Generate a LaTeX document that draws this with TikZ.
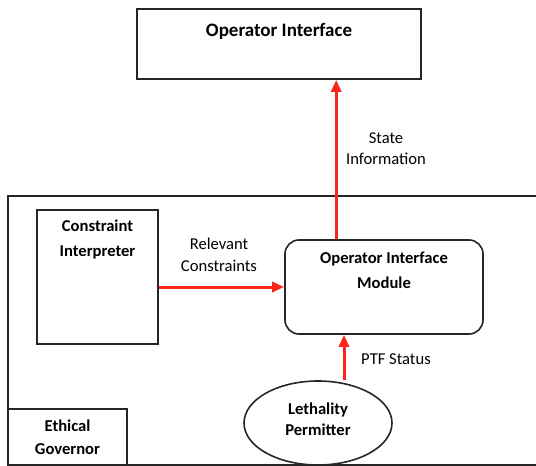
\documentclass[tikz,border=0pt]{standalone}
\usepackage{fontspec}
\setmainfont{Carlito}
\usetikzlibrary{shapes.geometric,arrows.meta,calc}

\definecolor{flowred}{RGB}{250,38,28}

\tikzset{
  block/.style={draw=black!85, line width=0.8pt, inner sep=0pt},
  boxfont/.style={font=\bfseries\fontsize{8.3}{12.5}\selectfont},
  flow/.style={draw=flowred, line width=1.5pt, -{Triangle[length=6pt,width=5pt]}},
  note/.style={align=center, font=\fontsize{8.3}{10.8}\selectfont}
}

\begin{document}
\begin{tikzpicture}[x=0.5pt,y=-0.5pt]
    \useasboundingbox (0,0) rectangle (536,466);
    \clip (0,0) rectangle (536,466);
    % outer frame
    \draw[black!85, line width=0.8pt] (8,196) rectangle (560,465);

    % blocks
    \node[block, minimum width=142pt, minimum height=35pt,
          label={[anchor=north, yshift=-4pt, font=\bfseries\fontsize{9.5}{11}\selectfont]north:Operator Interface}] (oi) at (279,44) {};
    \node[block, minimum width=60.5pt, minimum height=67pt,
          label={[anchor=north, yshift=-1.6pt, align=center, boxfont]north:Constraint\\Interpreter}] (ci) at (97.5,277) {};
    \node[block, rounded corners=7pt, minimum width=99pt, minimum height=47pt,
          label={[anchor=north, yshift=-2.6pt, align=center, boxfont]north:Operator Interface\\Module}] (module) at (384,287) {};
    \node[block, ellipse, minimum width=74pt, minimum height=42pt,
          label={[yshift=2pt, align=center, font=\bfseries\fontsize{8.3}{10.5}\selectfont]center:Lethality\\Permitter}] (perm) at (318,423) {};
    \node[block, minimum width=59.5pt, minimum height=28.5pt, align=center,
          font=\bfseries\fontsize{8.3}{11.5}\selectfont] (eg) at (67.5,437.5) {Ethical\\Governor};

    % connectors
    \draw[flow] ([xshift=26pt]module.north west) -- ([xshift=26pt]module.north west |- oi.south);
    \draw[flow] (ci.east |- module.west) -- (module.west);
    \draw[flow] ([xshift=13pt]perm.north) -- ([xshift=13pt]perm.north |- module.south);

    % labels
    \node[note] (stateinfo) at (386,148.5) {State\\Information};
    \node[note] (relevant) at (219,255) {Relevant\\Constraints};
    \node[note] (ptf) at (396,359) {PTF Status};
\end{tikzpicture}
\end{document}
